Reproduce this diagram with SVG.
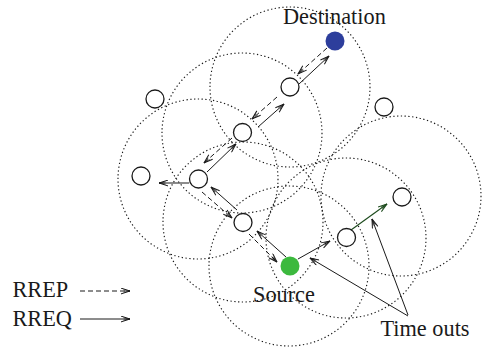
<svg xmlns="http://www.w3.org/2000/svg" width="482" height="348" viewBox="0 0 482 348">
  <defs>
    <style>
      .range { fill: none; stroke: #1a1a1a; stroke-width: 1.15; stroke-dasharray: 1.3 2.5; }
      .req { fill: none; stroke: #1a1a1a; stroke-width: 1; marker-end: url(#head); }
      .req-green { fill: none; stroke: #1c4a1c; stroke-width: 1.1; marker-end: url(#headGreen); }
      .rep { fill: none; stroke: #1a1a1a; stroke-width: 1; stroke-dasharray: 5 3; marker-end: url(#head); }
      .node { fill: #ffffff; stroke: #1a1a1a; stroke-width: 1.3; }
      .label { font-family: "Liberation Serif", "Times New Roman", serif; font-size: 22.3px; fill: #1a1a1a; }
    </style>
    <marker id="head" viewBox="0 0 10 7" refX="9.5" refY="3.5" markerWidth="10" markerHeight="7" markerUnits="userSpaceOnUse" orient="auto">
      <path d="M0.5,0.6 L9.5,3.5 L0.5,6.4" fill="none" stroke="#1a1a1a" stroke-width="1"/>
      <path d="M3,2.4 L9.5,3.5 L3,4.6" fill="none" stroke="#1a1a1a" stroke-width="0.7"/>
    </marker>
    <marker id="headGreen" viewBox="0 0 10 7" refX="9.5" refY="3.5" markerWidth="10" markerHeight="7" markerUnits="userSpaceOnUse" orient="auto">
      <path d="M0.5,0.6 L9.5,3.5 L0.5,6.4" fill="none" stroke="#1c4a1c" stroke-width="1"/>
      <path d="M3,2.4 L9.5,3.5 L3,4.6" fill="none" stroke="#1c4a1c" stroke-width="0.7"/>
    </marker>
  </defs>

  <!-- transmission ranges -->
  <g id="ranges">
    <circle class="range" cx="290" cy="87" r="80"/>
    <circle class="range" cx="242" cy="133" r="80"/>
    <circle class="range" cx="198" cy="179" r="80"/>
    <circle class="range" cx="243" cy="222" r="80"/>
    <circle class="range" cx="289" cy="266" r="80"/>
    <circle class="range" cx="346" cy="238" r="80"/>
    <circle class="range" cx="401" cy="196" r="80"/>
  </g>

  <!-- route request / reply messages and time-out pointers -->
  <g id="connectors">
    <line class="req" x1="286" y1="257" x2="257" y2="231"/>
    <line class="req" x1="237" y1="210" x2="211" y2="187"/>
    <line class="req" x1="207" y1="172" x2="236" y2="144"/>
    <line class="req" x1="258" y1="127" x2="284" y2="104"/>
    <line class="req" x1="299" y1="84" x2="329" y2="56"/>
    <line class="req" x1="189" y1="183" x2="159" y2="183"/>
    <line class="req" x1="298" y1="259" x2="330" y2="241"/>
    <line class="req-green" x1="351" y1="230" x2="387" y2="204"/>

    <line class="rep" x1="327" y1="48" x2="298" y2="74"/>
    <line class="rep" x1="277" y1="97" x2="252" y2="119"/>
    <line class="rep" x1="232" y1="138" x2="204" y2="163"/>
    <line class="rep" x1="202" y1="192" x2="232" y2="218"/>
    <line class="rep" x1="249" y1="234" x2="277" y2="262"/>

    <line class="req" x1="408" y1="316" x2="310" y2="258"/>
    <line class="req" x1="408" y1="315" x2="372" y2="219"/>

    <line class="rep" x1="80" y1="291" x2="130" y2="291"/>
    <line class="req" x1="80" y1="319" x2="130" y2="319"/>
  </g>

  <!-- mobile nodes -->
  <g id="destination">
    <circle cx="335" cy="41" r="9.5" fill="#2d3e9c"/>
  </g>
  <g id="n1"><circle class="node" cx="290" cy="87" r="9"/></g>
  <g id="n2"><circle class="node" cx="242.5" cy="132.5" r="9"/></g>
  <g id="n3"><circle class="node" cx="141" cy="176" r="9"/></g>
  <g id="n4"><circle class="node" cx="198.5" cy="179" r="9"/></g>
  <g id="n5"><circle class="node" cx="155" cy="99" r="9"/></g>
  <g id="n6"><circle class="node" cx="384" cy="107" r="9"/></g>
  <g id="n7"><circle class="node" cx="243" cy="222.5" r="9"/></g>
  <g id="source">
    <circle cx="290" cy="266" r="9.5" fill="#3cb93e"/>
  </g>
  <g id="n8"><circle class="node" cx="346.5" cy="237.5" r="9"/></g>
  <g id="n9"><circle class="node" cx="402" cy="197" r="9"/></g>

  <!-- labels -->
  <g id="labels">
    <text class="label" x="283" y="24">Destination</text>
    <text class="label" x="253" y="301.5">Source</text>
    <text class="label" x="380.5" y="336">Time outs</text>
    <text class="label" x="12.5" y="297">RREP</text>
    <text class="label" x="12.5" y="326">RREQ</text>
  </g>
</svg>
